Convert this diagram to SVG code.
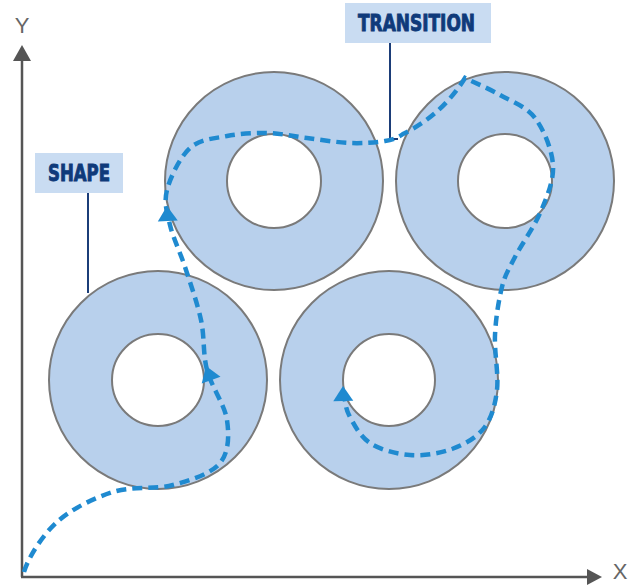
<svg xmlns="http://www.w3.org/2000/svg" width="638" height="585" viewBox="0 0 638 585">
<style>
.ring{fill:#b8d0ec;stroke:#7a7a7a;stroke-width:2}
.hole{fill:#ffffff;stroke:#7a7a7a;stroke-width:2}
.axis{stroke:#555555;stroke-width:2.5;fill:none}
.axhead{fill:#555555}
.axlbl{font-family:"Liberation Sans",Arial,sans-serif;font-size:22px;fill:#666666}
.box{fill:#c9dcf2}
.lbl{font-family:"Liberation Sans Narrow","DejaVu Sans Condensed","Liberation Sans",sans-serif;font-weight:bold;font-size:23px;fill:#0f3a7a;stroke:#0f3a7a;stroke-width:0.9}
.leader{stroke:#1b3d78;stroke-width:2;fill:none}
.flow{fill:none;stroke:#1f8ad0;stroke-width:4.5;stroke-dasharray:10 6}
.ahead{fill:#1f8ad0}
</style>
<defs>
<path id="ah" d="M0,0 L-15,-10 L-15,10 Z"/>
</defs>
<g id="axes">
<line class="axis" x1="22" y1="58" x2="22" y2="577"/>
<polygon class="axhead" points="22,45 13,61 31,61"/>
<line class="axis" x1="21" y1="577" x2="590" y2="577"/>
<polygon class="axhead" points="602,577 587,569 587,585"/>
<text class="axlbl" x="22" y="33" text-anchor="middle">Y</text>
<text class="axlbl" x="620" y="579" text-anchor="middle">X</text>
</g>
<g id="ring-top-left">
<circle class="ring" cx="274" cy="181" r="109"/>
<circle class="hole" cx="274" cy="181" r="47"/>
</g>
<g id="ring-top-right">
<circle class="ring" cx="505" cy="181" r="109"/>
<circle class="hole" cx="505" cy="181" r="47"/>
</g>
<g id="ring-bottom-left">
<circle class="ring" cx="158" cy="380" r="109"/>
<circle class="hole" cx="158" cy="380" r="46"/>
</g>
<g id="ring-bottom-right">
<circle class="ring" cx="389" cy="380" r="109"/>
<circle class="hole" cx="389" cy="380" r="46"/>
</g>
<g id="label-shape">
<rect class="box" x="35" y="153" width="88" height="40"/>
<text class="lbl" x="79" y="181" text-anchor="middle" textLength="62" lengthAdjust="spacingAndGlyphs">SHAPE</text>
<line class="leader" x1="88" y1="193" x2="88" y2="293"/>
</g>
<g id="label-transition">
<rect class="box" x="345" y="3" width="146" height="40"/>
<text class="lbl" x="416.5" y="31" text-anchor="middle" textLength="117" lengthAdjust="spacingAndGlyphs">TRANSITION</text>
<polyline class="leader" points="390,43 390,139 398,139"/>
</g>
<g id="connectors">
<path class="flow" d="M24,572 C28,558 42.2,535.3 57,522 C71.8,508.7 93.7,498.2 113,492 C132.3,485.8 155.2,489.8 173,485 C190.8,480.2 211,473.8 220,463 C229,452.2 229.2,435.5 227,420 C224.8,404.5 211.3,386.7 207,370 C202.7,353.3 204.7,337.2 201,320 C197.3,302.8 190.2,282.8 185,267 C179.8,251.2 173,237.8 170,225 C167,212.2 163.7,202.8 167,190 C170.3,177.2 180,157 190,148 C200,139 214.2,138.5 227,136 C239.8,133.5 253.7,132.7 267,133 C280.3,133.3 293.2,136.3 307,138 C320.8,139.7 337,142.5 350,143 C363,143.5 376.2,142.5 385,141 C393.8,139.5 399,137 403,134 Q442,115 465,78 C470.8,80.8 488.3,88.3 500,95 C511.7,101.7 526.2,106.3 535,118 C543.8,129.7 552,149.5 553,165 C554,180.5 547.3,195.7 541,211 C534.7,226.3 521.5,244.3 515,257 C508.5,269.7 505.3,274 502,287 C498.7,300 495.8,317.8 495,335 C494.2,352.2 498.8,374.5 497,390 C495.2,405.5 491.5,418.2 484,428 C476.5,437.8 464.3,444.5 452,449 C439.7,453.5 423.7,456 410,455 C396.3,454 380.2,449.7 370,443 C359.8,436.3 353.3,423.3 349,415 C344.7,406.7 344.8,396.7 344,393"/>
<use href="#ah" class="ahead" transform="translate(167,206) rotate(-93)"/>
<use href="#ah" class="ahead" transform="translate(206,366) rotate(-110)"/>
<use href="#ah" class="ahead" transform="translate(343,386) rotate(-91)"/>
</g>
</svg>
